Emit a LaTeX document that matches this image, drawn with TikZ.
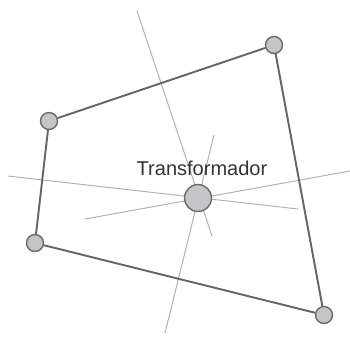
\documentclass[tikz,border=0pt]{standalone}
\usepackage{fontspec}
\setmainfont{Liberation Sans}
\definecolor{nodefill}{HTML}{C4C5C9}
\definecolor{nodeline}{HTML}{6A6A6A}
\definecolor{wire}{HTML}{666666}
\definecolor{axis}{HTML}{B0B0B0}
\begin{document}
\begin{tikzpicture}[x=0.02cm, y=-0.02cm,
        station/.style={draw=nodeline, fill=nodefill, circle, line width=0.8pt, inner sep=0pt, minimum size=0.34cm},
        hub/.style={station, minimum size=0.54cm},
        wire/.style={draw=wire, line width=1.1pt},
        axis/.style={draw=axis, line width=0.55pt}]
        \useasboundingbox (0,0) rectangle (350,339);
        % The axes
        \coordinate (a1) at (137,11);  \coordinate (a2) at (212,236);
        \coordinate (b1) at (214,135); \coordinate (b2) at (165,333);
        \coordinate (c1) at (8,176);   \coordinate (c2) at (298,209);
        \coordinate (d1) at (85,219);  \coordinate (d2) at (350,171);
        \draw[axis] (a1) -- (a2);
        \draw[axis] (b1) -- (b2);
        \draw[axis] (c1) -- (c2);
        \draw[axis] (d1) -- (d2);

        % The stations
        \node (T) [hub] at (198,198) {};
        \node (NE) [station] at (274,45) {};
        \node (NW) [station] at (49,121) {};
        \node (SW) [station] at (35,243) {};
        \node (SE) [station] at (324,315) {};

        \draw[wire] (NW) -- (NE) -- (SE) -- (SW) -- (NW);

        \node [above of=T, node distance=0.6cm, xshift=0.08cm, text=black!80, font=\fontsize{11.4}{13}\selectfont] {Transformador};
    \end{tikzpicture}
\end{document}
